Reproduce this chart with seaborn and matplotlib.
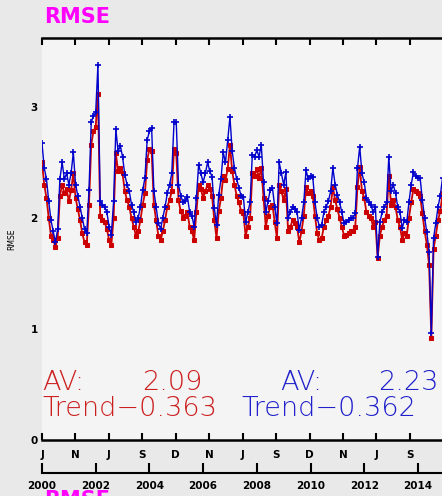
import numpy as np
import pandas as pd
import matplotlib
matplotlib.use("Agg")
import matplotlib.pyplot as plt
import seaborn as sns

# monthly RMSE, Jan 2000 .. Dec 2014
rmse_red = [
    2.50, 2.30, 2.18, 2.00, 1.84, 1.80, 1.74, 1.82, 2.20, 2.30, 2.22, 2.26,
    2.15, 2.25, 2.40, 2.18, 2.08, 1.98, 1.86, 1.78, 1.76, 2.12, 2.66, 2.78,
    2.82, 3.12, 2.02, 1.98, 1.96, 1.90, 1.80, 1.76, 2.00, 2.58, 2.42, 2.45,
    2.40, 2.24, 2.16, 2.10, 2.00, 1.92, 1.84, 1.88, 1.98, 2.12, 2.22, 2.52,
    2.62, 2.60, 2.12, 1.98, 1.84, 1.80, 1.88, 1.98, 2.10, 2.16, 2.24, 2.62,
    2.58, 2.16, 2.06, 2.00, 2.02, 2.05, 1.92, 1.88, 1.80, 2.05, 2.30, 2.26,
    2.18, 2.24, 2.30, 2.26, 2.20, 1.98, 1.82, 2.06, 2.18, 2.38, 2.34, 2.44,
    2.66, 2.42, 2.30, 2.20, 2.14, 2.06, 2.04, 1.84, 1.92, 2.00, 2.40, 2.38,
    2.44, 2.36, 2.45, 2.18, 1.92, 2.02, 2.10, 2.12, 1.96, 1.82, 2.30, 2.24,
    2.16, 2.26, 1.88, 1.92, 1.98, 1.95, 1.92, 1.78, 1.88, 2.02, 2.28, 2.22,
    2.24, 2.20, 2.02, 1.86, 1.80, 1.82, 1.92, 1.98, 2.02, 2.10, 2.28, 2.16,
    2.08, 2.00, 1.92, 1.84, 1.85, 1.86, 1.88, 1.88, 1.92, 2.28, 2.46, 2.24,
    2.18, 2.05, 2.02, 2.00, 1.92, 1.96, 1.64, 1.84, 1.92, 1.98, 2.02, 2.38,
    2.12, 2.16, 2.10, 1.98, 1.92, 1.80, 1.86, 1.84, 2.00, 2.14, 2.26, 2.24,
    2.22, 2.20, 2.04, 1.88, 1.76, 1.58, 0.92, 1.72, 1.84, 1.98, 2.06, 2.22,
]
rmse_blue = [
    2.67, 2.45, 2.35, 2.15, 1.98, 1.88, 1.78, 1.90, 2.35, 2.50, 2.35, 2.40,
    2.30, 2.40, 2.59, 2.30, 2.20, 2.10, 2.00, 1.90, 1.86, 2.25, 2.86, 2.92,
    2.95, 3.38, 2.15, 2.12, 2.10, 2.05, 1.92, 1.85, 2.15, 2.80, 2.60, 2.65,
    2.55, 2.39, 2.30, 2.24, 2.12, 2.05, 1.96, 2.00, 2.10, 2.25, 2.36, 2.70,
    2.78, 2.81, 2.24, 2.10, 1.95, 1.90, 2.00, 2.10, 2.22, 2.30, 2.40, 2.86,
    2.86, 2.30, 2.20, 2.14, 2.15, 2.19, 2.05, 2.02, 1.92, 2.18, 2.48, 2.40,
    2.32, 2.40, 2.50, 2.42, 2.37, 2.09, 1.94, 2.21, 2.35, 2.59, 2.50, 2.70,
    2.91, 2.60, 2.45, 2.35, 2.27, 2.20, 2.19, 1.96, 2.05, 2.14, 2.57, 2.55,
    2.61, 2.55, 2.66, 2.32, 2.05, 2.15, 2.25, 2.27, 2.10, 1.95, 2.50, 2.40,
    2.30, 2.41, 2.00, 2.05, 2.10, 2.08, 2.05, 1.89, 2.00, 2.14, 2.43, 2.35,
    2.38, 2.37, 2.14, 2.00, 1.92, 1.94, 2.05, 2.10, 2.15, 2.24, 2.45, 2.30,
    2.21, 2.14, 2.05, 1.95, 1.96, 1.98, 2.00, 2.00, 2.04, 2.45, 2.64, 2.40,
    2.32, 2.18, 2.14, 2.12, 2.05, 2.10, 1.65, 1.96, 2.05, 2.10, 2.14, 2.55,
    2.24, 2.30, 2.22, 2.10, 2.05, 1.91, 1.98, 1.96, 2.14, 2.30, 2.41, 2.38,
    2.36, 2.36, 2.16, 2.00, 1.87, 1.69, 0.96, 1.82, 1.95, 2.10, 2.20, 2.36,
]
month_labels = ["J", "N", "J", "S", "D", "N", "J", "S", "D", "N", "J", "S"]
year_ticks = [2000, 2002, 2004, 2006, 2008, 2010, 2012, 2014]
y_ticks = [0, 1, 2, 3]
av_red, av_blue = "2.09", "2.23"
trend_red, trend_blue = "\u22120.363", "\u22120.362"

RED = "#cc0000"
BLUE = "#0000cc"
BG = "#e9e9e9"

t = 2000 + np.arange(len(rmse_blue)) / 12.0
df = pd.DataFrame({"t": t, "red": rmse_red, "blue": rmse_blue})

plt.rcParams["font.family"] = ["DejaVu Sans"]
fig = plt.figure(figsize=(4.42, 4.96), dpi=100, facecolor=BG)
ax = fig.add_axes([42 / 442, 1 - 440 / 496, 400 / 442, 402 / 496])
ax.set_facecolor("#f4f4f4")

sns.lineplot(data=df, x="t", y="red", ax=ax, color=RED, lw=1.3,
             marker="s", markersize=3.4, markeredgecolor=RED, estimator=None)
sns.lineplot(data=df, x="t", y="blue", ax=ax, color=BLUE, lw=1.0,
             marker="+", markersize=5, markeredgewidth=1.2,
             markeredgecolor=BLUE, estimator=None)

ax.set_xlim(2000, 2000 + 400 / 26.85)
ax.set_ylim(0, 3.62)

for s in ["left", "right"]:
    ax.spines[s].set_visible(False)
for s in ["top", "bottom"]:
    ax.spines[s].set_linewidth(1.8)
    ax.spines[s].set_color("black")

step = 455 / 365.25
mticks = [2000 + k * step for k in range(len(month_labels))]
ax.set_xticks(mticks)
ax.set_xticklabels(month_labels, fontsize=7.5, fontweight="bold")
ax.tick_params(axis="x", which="both", direction="in", length=5, width=1.5,
               top=True, bottom=True, pad=7)
ax.set_yticks(y_ticks)
ax.set_yticklabels([str(v) for v in y_ticks], fontsize=7.5, fontweight="bold")
ax.tick_params(axis="y", length=0, pad=3)
ax.set_xlabel("")
ax.set_ylabel("RMSE", fontsize=5.5, labelpad=10)

sec = ax.secondary_xaxis(-0.082)
sec.set_xticks(year_ticks)
sec.set_xticklabels([str(y) for y in year_ticks], fontsize=7.5, fontweight="bold")
sec.tick_params(direction="in", length=7, width=1.5, pad=6)
sec.spines["bottom"].set_linewidth(1.5)

tf = dict(fontsize=19.5, fontweight=200, va="center", transform=fig.transFigure)
def fx(px):
    return px / 442
def fy(py):
    return 1 - py / 496

fig.text(fx(42), fy(382), "AV:", color="#cc2020", ha="left", **tf)
fig.text(fx(202), fy(382), av_red, color="#cc2020", ha="right", **tf)
fig.text(fx(42), fy(409), "Trend" + trend_red, color="#cc2020", ha="left", **tf)
fig.text(fx(280), fy(382), "AV:", color="#2020cc", ha="left", **tf)
fig.text(fx(439), fy(382), av_blue, color="#2020cc", ha="right", **tf)
fig.text(fx(241), fy(409), "Trend" + trend_blue, color="#2020cc", ha="left", **tf)

fig.text(fx(44), fy(17), "RMSE", color="#ff00ff", fontsize=15, fontweight="bold",
         ha="left", va="center")
fig.text(fx(44), fy(490), "RMSE", color="#ff00ff", fontsize=15, fontweight="bold",
         ha="left", va="top")

fig.savefig("out.png", dpi=100, facecolor=BG)
